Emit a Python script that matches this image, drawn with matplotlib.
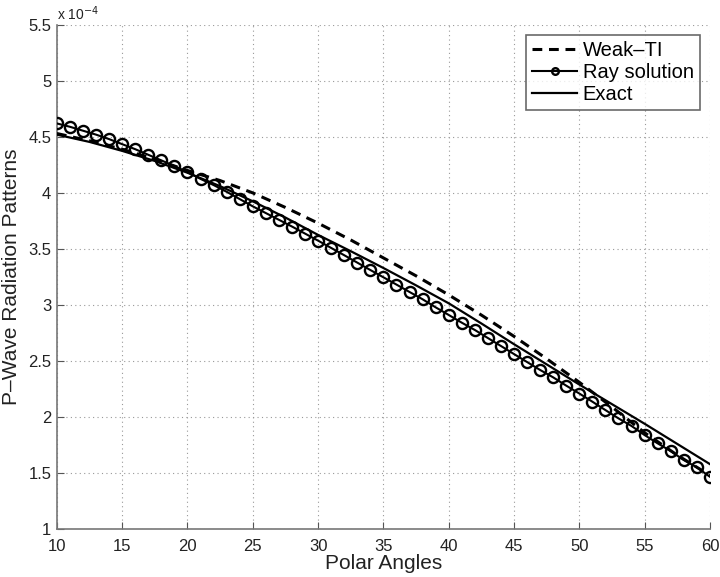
import numpy as np
import matplotlib.pyplot as plt

# P-wave radiation patterns vs polar angle (values in units of 1e-4)
ray_angles = np.arange(10, 61)
ray_solution = [4.62, 4.59, 4.555, 4.52, 4.48, 4.435, 4.39, 4.34, 4.29, 4.24,
                4.185, 4.125, 4.07, 4.01, 3.945, 3.88, 3.82, 3.76, 3.70, 3.637,
                3.574, 3.509, 3.444, 3.378, 3.312, 3.247, 3.182, 3.116, 3.051, 2.979,
                2.911, 2.842, 2.777, 2.705, 2.634, 2.562, 2.491, 2.420, 2.354, 2.28,
                2.21, 2.137, 2.062, 1.988, 1.920, 1.839, 1.765, 1.696, 1.616, 1.551,
                1.467]

line_angles = [10, 12.5, 15, 17.5, 20, 22.5, 25, 27.5, 30, 32.5, 35,
               37.5, 40, 42.5, 45, 47.5, 50, 52.5, 55, 57.5, 60]
exact = [4.52, 4.455, 4.375, 4.285, 4.18, 4.06, 3.925, 3.78, 3.625, 3.48, 3.33,
         3.175, 3.015, 2.835, 2.65, 2.47, 2.29, 2.115, 1.94, 1.76, 1.58]
weak_ti = [4.53, 4.465, 4.39, 4.30, 4.20, 4.11, 4.0, 3.87, 3.73, 3.58, 3.42,
           3.26, 3.09, 2.91, 2.72, 2.52, 2.31, 2.09, 1.86, 1.66, 1.48]

x_ticks = np.arange(10, 61, 5)
y_ticks = np.arange(1, 5.51, 0.5)

plt.rcParams['font.family'] = ['Liberation Sans', 'DejaVu Sans']

fig = plt.figure(figsize=(7.2, 5.77), dpi=100)
ax = fig.add_axes([0.079, 0.083, 0.907, 0.874])

ax.plot(line_angles, weak_ti, color='black', lw=2.2, ls=(0, (3.2, 2.2)),
        label='Weak\u2013TI', zorder=3)
ax.plot(ray_angles, ray_solution, color='black', lw=1.5, marker='o',
        markersize=8, markerfacecolor='none', markeredgewidth=1.7,
        label='Ray solution', zorder=4)
ax.plot(line_angles, exact, color='black', lw=1.6, label='Exact', zorder=3)

ax.set_xlim(10, 60)
ax.set_ylim(1, 5.5)
ax.set_xticks(x_ticks)
ax.set_yticks(y_ticks)
ax.set_yticklabels(['%g' % v for v in y_ticks])

ax.grid(True, color='#999999', ls=(0, (1, 3)), lw=0.8)
for side in ['top', 'right']:
    ax.spines[side].set_visible(False)
for side in ['left', 'bottom']:
    ax.spines[side].set_color('#777777')
    ax.spines[side].set_linewidth(1.2)
ax.tick_params(direction='in', length=5, color='#555555', labelsize=12,
               labelcolor='#222222')
ax.tick_params(axis='x', pad=7)
ax.tick_params(axis='y', pad=4)

ax.text(0.0, 1.003, 'x 10$^{-4}$', transform=ax.transAxes, fontsize=10,
        ha='left', va='bottom', color='#222222')

ax.set_xlabel('Polar Angles', fontsize=15, color='#222222', labelpad=0)
ax.set_ylabel('P\u2013Wave Radiation Patterns', fontsize=15, color='#222222',
              labelpad=5)

leg = ax.legend(loc='upper right', fontsize=14.5, frameon=True, fancybox=False,
                borderpad=0.3, handlelength=2.2, handletextpad=0.3,
                labelspacing=0.15, markerscale=0.6, borderaxespad=0.5)
leg.get_frame().set_edgecolor('#444444')
leg.get_frame().set_linewidth(1.2)

fig.savefig('out.png', dpi=100)
